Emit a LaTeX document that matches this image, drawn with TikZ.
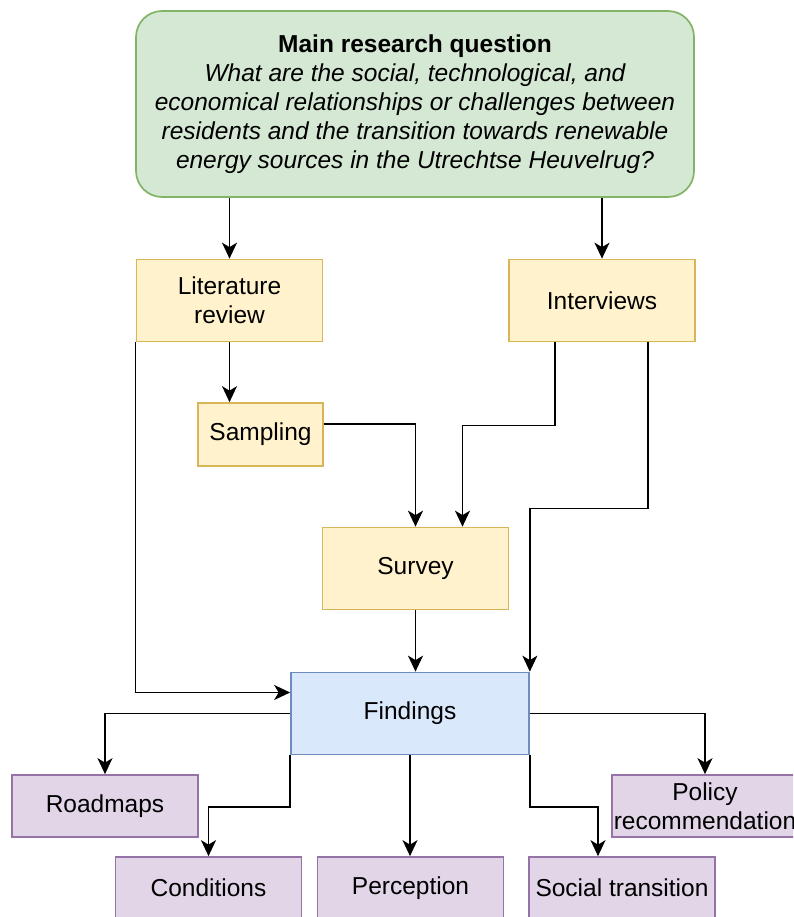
\documentclass[tikz,border=0pt]{standalone}
\usepackage{fontspec}
\setmainfont{Liberation Sans}
\usetikzlibrary{arrows.meta}

\definecolor{mainfill}{HTML}{D5E8D4}
\definecolor{maindraw}{HTML}{82B366}
\definecolor{stepfill}{HTML}{FFF2CC}
\definecolor{stepdraw}{HTML}{D6B656}
\definecolor{findfill}{HTML}{DAE8FC}
\definecolor{finddraw}{HTML}{6C8EBF}
\definecolor{outfill}{HTML}{E1D5E7}
\definecolor{outdraw}{HTML}{9673A6}

\begin{document}
\begin{tikzpicture}[
		x=1pt,
		y=-1pt,
		font=\fontsize{24.5}{29}\selectfont,
		>={Stealth[length=16pt,width=15pt,inset=4.5pt]},
		box/.style={draw, line width=1.7pt, inner sep=0pt, align=center, text=black},
		mainbox/.style={box, fill=mainfill, draw=maindraw, rounded corners=26pt,
			minimum width=558pt, minimum height=186pt},
		stepbox/.style={box, fill=stepfill, draw=stepdraw, minimum width=186pt, minimum height=82pt},
		findbox/.style={box, fill=findfill, draw=finddraw, minimum width=238pt, minimum height=82pt},
		outbox/.style={box, fill=outfill, draw=outdraw, minimum width=186pt, minimum height=62pt},
		link/.style={->, line width=1.6pt, black}
		]
		
		\useasboundingbox (0,0) rectangle (793,917);
		\clip (0,0) rectangle (793,917);
		
		% research question
		\node[mainbox] (main) at (415,104)
		{\rule{0pt}{6pt}\bfseries Main research question\\
			\itshape What are the social, technological, and\\
			\itshape economical relationships or challenges between\\
			\itshape residents and the transition towards renewable\\
			\itshape energy sources in the Utrechtse Heuvelrug?};
		
		% methods
		\node[stepbox] (lit) at (229.5,300.5) {Literature\\review};
		\node[stepbox] (int) at (602,300.5) {Interviews};
		\node[stepbox, minimum width=125pt, minimum height=63pt] (samp) at (260.5,434.5) {Sampling};
		\node[stepbox] (surv) at (415.5,568.5) {Survey};
		
		% results
		\node[findbox] (find) at (410,713.5) {Findings};
		
		% outcomes
		\node[outbox] (road) at (105,806) {Roadmaps};
		\node[outbox] (pol) at (705,806) {Policy\\recommendation};
		\node[outbox] (cond) at (208.5,888) {Conditions};
		\node[outbox] (perc) at (410.5,888) {Perception};
		\node[outbox] (soc) at (622,888) {Social transition};
		
		% connectors
		\draw[link] (main.south -| lit.north) -- (lit.north);
		\draw[link] (main.south -| int.north) -- (int.north);
		\draw[link] (lit.south) -- (lit.south |- samp.north);
		\draw[link] ([yshift=10.5pt]samp.east) -| (surv.north);
		\draw[link] ([xshift=-47pt]int.south) -- ++(0,83) -| ([xshift=47pt]surv.north);
		\draw[link] ([xshift=46pt]int.south) -- ++(0,166) -| (find.north east);
		\draw[link] (lit.south west) |- ([yshift=21pt]find.west);
		\draw[link] (surv.south) -- (surv.south |- find.north);
		
		\draw[link] (find.west) -| (road.north);
		\draw[link] (find.east) -| (pol.north);
		\draw[link] (find.south west) -- ++(0,51.5) -| (cond.north);
		\draw[link] (find.south) -- (find.south |- perc.north);
		\draw[link] (find.south east) -- ++(0,51.5) -| ([xshift=-24pt]soc.north);
		
	\end{tikzpicture}
\end{document}
